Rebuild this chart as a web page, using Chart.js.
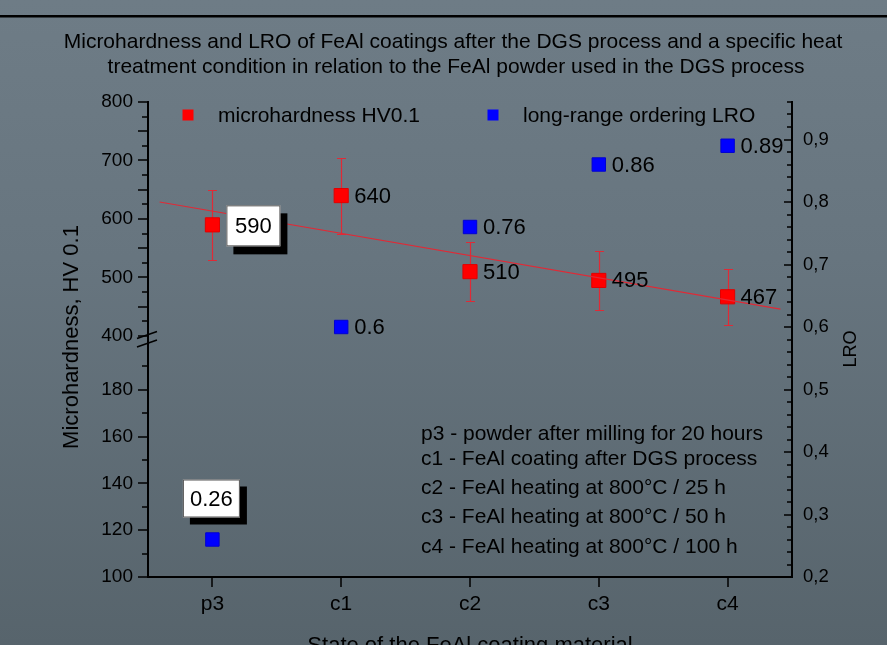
<!DOCTYPE html>
<html>
<head>
<meta charset="utf-8">
<script src="https://cdn.jsdelivr.net/npm/chart.js@4.4.1/dist/chart.umd.min.js"></script>
<style>
  html, body { margin: 0; padding: 0; }
  body {
    width: 887px; height: 645px; overflow: hidden;
    background: linear-gradient(to bottom, #6e7c86 0%, #67757f 40%, #57646c 100%);
  }
  canvas { display: block; }
</style>
</head>
<body>
<canvas id="myChart" width="887" height="645"></canvas>
<script>
// data
const categories = ['p3', 'c1', 'c2', 'c3', 'c4'];
const hardness = [590, 640, 510, 495, 467];
const hardnessErr = [60, 65, 50, 50, 48];
const lro = [0.26, 0.6, 0.76, 0.86, 0.89];
const trendX = [-0.41, 4.41];
const trendY = [629, 446];
const hvTicksLow = [100, 120, 140, 160, 180];
const hvTicksHigh = [400, 450, 500, 550, 600, 650, 700, 750, 800];
const lroTicks = [0.2, 0.3, 0.4, 0.5, 0.6, 0.7, 0.8, 0.9];
const notes = [
    'p3 - powder after milling for 20 hours',
    'c1 - FeAl coating after DGS process',
    'c2 - FeAl heating at 800°C / 25 h',
    'c3 - FeAl heating at 800°C / 50 h',
    'c4 - FeAl heating at 800°C / 100 h'
];
const titleLines = [
    'Microhardness and LRO of FeAl coatings after the DGS process and a specific heat',
    'treatment condition in relation to the FeAl powder used in the DGS process'
];

const FONT = '"Liberation Sans", Arial, sans-serif';
const RED = '#ff0000';
const BLUE = '#0000ff';
const ERR = '#e02a36';

function labelBox(ctx, text, cx, cy, w, h, dx, dy) {
    ctx.fillStyle = '#000';
    ctx.fillRect(cx - w / 2 + dx, cy - h / 2 + dy, w, h);
    ctx.fillStyle = '#fff';
    ctx.fillRect(cx - w / 2, cy - h / 2, w, h);
    ctx.strokeStyle = '#555';
    ctx.lineWidth = 1;
    ctx.strokeRect(cx - w / 2 + 0.5, cy - h / 2 + 0.5, w - 1, h - 1);
    ctx.fillStyle = '#000';
    ctx.textAlign = 'center';
    ctx.fillText(text, cx, cy + 1);
}

const decorations = {
    id: 'decorations',
    beforeDatasetsDraw(chart) {
        // error bars
        const ctx = chart.ctx;
        const x = chart.scales.x, y = chart.scales.yHigh;
        ctx.save();
        ctx.strokeStyle = ERR;
        ctx.lineWidth = 1.2;
        hardness.forEach((v, i) => {
            const px = Math.round(x.getPixelForValue(i)) + 0.5;
            const top = Math.round(y.getPixelForValue(v + hardnessErr[i])) + 0.5;
            const bot = Math.round(y.getPixelForValue(v - hardnessErr[i])) + 0.5;
            ctx.beginPath();
            ctx.moveTo(px, top); ctx.lineTo(px, bot);
            ctx.moveTo(px - 4.5, top); ctx.lineTo(px + 4.5, top);
            ctx.moveTo(px - 4.5, bot); ctx.lineTo(px + 4.5, bot);
            ctx.stroke();
        });
        ctx.restore();
    },
    afterDatasetsDraw(chart) {
        // value labels, p3 ones in boxes
        const ctx = chart.ctx;
        const x = chart.scales.x, yh = chart.scales.yHigh, yr = chart.scales.yR;
        ctx.save();
        ctx.font = '22px ' + FONT;
        ctx.textBaseline = 'middle';
        hardness.forEach((v, i) => {
            const px = x.getPixelForValue(i), py = yh.getPixelForValue(v);
            if (i === 0) {
                labelBox(ctx, String(v), px + 41, py + 1, 54, 41, 7, 8);
            } else {
                ctx.fillStyle = '#000';
                ctx.textAlign = 'left';
                ctx.fillText(String(v), px + 13, py + 1);
            }
        });
        lro.forEach((v, i) => {
            const px = x.getPixelForValue(i), py = yr.getPixelForValue(v);
            if (i === 0) {
                labelBox(ctx, String(v), px - 1, py - 41, 57, 38, 7, 7);
            } else {
                ctx.fillStyle = '#000';
                ctx.textAlign = 'left';
                ctx.fillText(String(v), px + 13, py + 1);
            }
        });
        ctx.restore();
    },
    afterDraw(chart) {
        const ctx = chart.ctx;
        const area = chart.chartArea;
        const x = chart.scales.x, yl = chart.scales.yLow, yh = chart.scales.yHigh, yr = chart.scales.yR;
        ctx.save();

        // line across the top of the slide
        ctx.fillStyle = '#000';
        ctx.fillRect(0, 15, 887, 2.5);

        // tick marks
        ctx.strokeStyle = '#000';
        ctx.lineWidth = 1.5;
        ctx.beginPath();
        for (let v = 100; v <= 190; v += 10) {
            const py = Math.round(yl.getPixelForValue(v));
            const len = v % 20 === 0 ? 10 : 6;
            ctx.moveTo(area.left - len, py); ctx.lineTo(area.left, py);
        }
        for (let v = 400; v <= 800; v += 25) {
            const py = Math.round(yh.getPixelForValue(v));
            const len = v % 50 === 0 ? 10 : 6;
            ctx.moveTo(area.left - len, py); ctx.lineTo(area.left, py);
        }
        for (let k = 10; k <= 48; k++) {
            const py = Math.round(yr.getPixelForValue(k / 50));
            const len = k % 5 === 0 ? 8 : 5;
            ctx.moveTo(area.right - len, py); ctx.lineTo(area.right, py);
        }
        categories.forEach((c, i) => {
            const px = Math.round(x.getPixelForValue(i));
            ctx.moveTo(px, area.bottom); ctx.lineTo(px, area.bottom + 10);
        });
        ctx.stroke();

        // axis break marks
        const b = yl.top;
        ctx.lineWidth = 1.6;
        ctx.beginPath();
        ctx.moveTo(area.left - 11, b - 1); ctx.lineTo(area.left + 9, b - 8);
        ctx.moveTo(area.left - 11, b + 7.5); ctx.lineTo(area.left + 9, b + 0.5);
        ctx.stroke();

        // title
        ctx.fillStyle = '#000';
        ctx.textAlign = 'center';
        ctx.textBaseline = 'alphabetic';
        ctx.font = '21px ' + FONT;
        ctx.fillText(titleLines[0], 453, 48);
        ctx.fillText(titleLines[1], 456, 73);

        // legend
        const sets = chart.data.datasets.filter(d => d.legendX !== undefined);
        ctx.textAlign = 'left';
        ctx.textBaseline = 'middle';
        ctx.font = '21px ' + FONT;
        sets.forEach(d => {
            ctx.fillStyle = d.backgroundColor;
            ctx.fillRect(d.legendX - 5.5, 109.5, 11, 11);
            ctx.fillStyle = '#000';
            ctx.fillText(d.label, d.legendX + 30, 116);
        });

        // notes
        ctx.textBaseline = 'alphabetic';
        ctx.font = '21px ' + FONT;
        const noteY = [440, 465, 494, 523, 553];
        notes.forEach((t, i) => ctx.fillText(t, 421, noteY[i]));

        // axis titles
        ctx.textAlign = 'center';
        ctx.font = '22px ' + FONT;
        ctx.fillText('State of the FeAl coating material', 470, 652);

        ctx.save();
        ctx.translate(78, 337);
        ctx.rotate(-Math.PI / 2);
        ctx.fillText('Microhardness, HV 0.1', 0, 0);
        ctx.restore();

        ctx.save();
        ctx.translate(856, 349);
        ctx.rotate(-Math.PI / 2);
        ctx.font = '18px ' + FONT;
        ctx.fillText('LRO', 0, 0);
        ctx.restore();

        ctx.restore();
    }
};

window.onload = function () {
    const ctx = document.getElementById('myChart').getContext('2d');

    const axisBase = {
        grid: { display: true, drawOnChartArea: false, drawTicks: false },
        border: { display: true, color: '#000', width: 2 }
    };

    const config = {
        type: 'scatter',
        data: {
            datasets: [
                {
                    type: 'line',
                    label: 'trend',
                    data: trendX.map((v, i) => ({ x: v, y: trendY[i] })),
                    yAxisID: 'yHigh',
                    borderColor: ERR,
                    borderWidth: 1.2,
                    pointRadius: 0,
                    fill: false
                },
                {
                    label: 'microhardness HV0.1',
                    data: hardness.map((v, i) => ({ x: i, y: v })),
                    yAxisID: 'yHigh',
                    pointStyle: 'rect',
                    pointRadius: 10,
                    backgroundColor: RED,
                    borderColor: '#e00000',
                    borderWidth: 1,
                    legendX: 188
                },
                {
                    label: 'long-range ordering LRO',
                    data: lro.map((v, i) => ({ x: i, y: v })),
                    yAxisID: 'yR',
                    pointStyle: 'rect',
                    pointRadius: 9.5,
                    backgroundColor: BLUE,
                    borderColor: '#0000d0',
                    borderWidth: 1,
                    legendX: 493
                }
            ]
        },
        options: {
            responsive: false,
            animation: false,
            layout: { padding: { top: 102, left: 0, right: 0, bottom: 0 } },
            plugins: {
                legend: { display: false },
                title: { display: false },
                tooltip: { enabled: false }
            },
            scales: {
                x: {
                    ...axisBase,
                    type: 'linear',
                    min: -0.5,
                    max: 4.5,
                    afterBuildTicks: s => { s.ticks = categories.map((c, i) => ({ value: i })); },
                    afterFit: s => { s.height = 68; },
                    ticks: {
                        callback: v => categories[v],
                        color: '#000',
                        font: { family: FONT, size: 21 },
                        padding: 15,
                        maxRotation: 0,
                        autoSkip: false
                    }
                },
                // broken left axis: two stacked scales, lower one listed first
                yLow: {
                    ...axisBase,
                    type: 'linear',
                    position: 'left',
                    stack: 'hv',
                    stackWeight: 1,
                    min: 100,
                    max: 201.5,
                    afterBuildTicks: s => { s.ticks = hvTicksLow.map(v => ({ value: v })); },
                    afterFit: s => { s.width = 148; },
                    ticks: { color: '#000', font: { family: FONT, size: 19 }, padding: 15 }
                },
                yHigh: {
                    ...axisBase,
                    type: 'linear',
                    position: 'left',
                    stack: 'hv',
                    stackWeight: 1,
                    min: 394,
                    max: 800,
                    afterBuildTicks: s => { s.ticks = hvTicksHigh.map(v => ({ value: v })); },
                    afterFit: s => { s.width = 148; },
                    ticks: { color: '#000', font: { family: FONT, size: 19 }, padding: 15 }
                },
                yR: {
                    ...axisBase,
                    type: 'linear',
                    position: 'right',
                    min: 0.2,
                    max: 0.96,
                    afterBuildTicks: s => { s.ticks = lroTicks.map(v => ({ value: v })); },
                    afterFit: s => { s.width = 95; },
                    ticks: {
                        color: '#000',
                        font: { family: FONT, size: 18.5 },
                        padding: 11,
                        callback: v => v.toFixed(1).replace('.', ',')
                    }
                }
            }
        },
        plugins: [decorations]
    };

    const myChart = new Chart(ctx, config);
};
</script>
</body>
</html>
